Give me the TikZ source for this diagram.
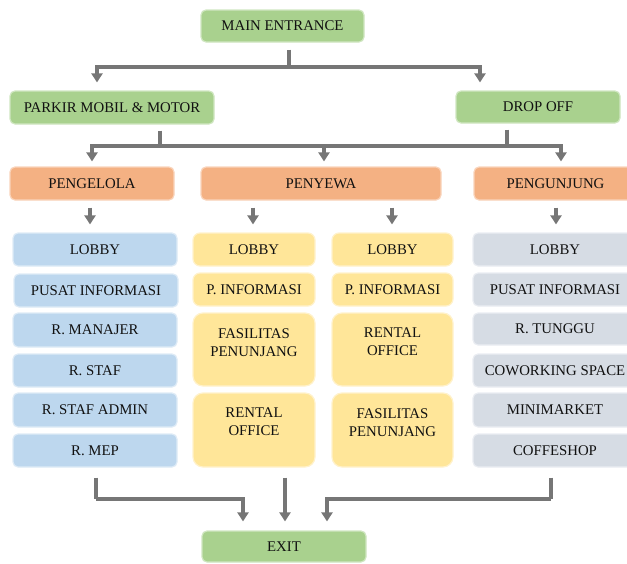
\documentclass[tikz,border=0pt]{standalone}
\usepackage{fontspec}
\setmainfont{Liberation Serif}
\usetikzlibrary{arrows.meta}
\definecolor{cgreen}{HTML}{A9D18E}
\definecolor{corange}{HTML}{F4B183}
\definecolor{cblue}{HTML}{BDD7EE}
\definecolor{cyellow}{HTML}{FFE699}
\definecolor{cgrey}{HTML}{D6DCE4}
\definecolor{cline}{HTML}{767676}
\definecolor{ctext}{HTML}{111111}
\tikzset{
  box/.style={rounded corners=5pt, line width=1.2pt, inner sep=0pt, text=ctext,
    font=\fontsize{14.8pt}{18pt}\selectfont, align=center},
  gbox/.style={box, fill=cgreen, draw=cgreen!55!white},
  obox/.style={box, fill=corange, draw=corange!55!white},
  bbox/.style={box, fill=cblue, draw=cblue!50!white},
  ybox/.style={box, fill=cyellow, draw=cyellow!50!white, rounded corners=7pt},
  tallbox/.style={ybox, rounded corners=10pt},
  rbox/.style={box, fill=cgrey, draw=cgrey!50!white},
  lbl/.style={text=ctext, font=\fontsize{14.8pt}{18pt}\selectfont, align=center, inner sep=0pt},
  conn/.style={draw=cline, line width=3.6pt},
  arr/.style={conn, -{Triangle[width=11pt,length=9pt]}},
}
\begin{document}
\begin{tikzpicture}[x=1pt,y=-1pt]
\useasboundingbox (0,0) rectangle (627,563);
\clip (0,0) rectangle (627,563);
% level 0
\node[gbox, minimum width=163pt, minimum height=32pt] (main) at (282.5,26) {MAIN ENTRANCE};
% level 1
\node[gbox, minimum width=204pt, minimum height=33pt] (parkir) at (112,107.5) {PARKIR MOBIL \& MOTOR};
\node[gbox, minimum width=164pt, minimum height=32pt] (drop) at (538,107) {DROP OFF};
% level 2
\node[obox, minimum width=164pt, minimum height=33pt] (pengelola) at (92,183.5) {PENGELOLA};
\node[obox, minimum width=240pt, minimum height=33pt] (penyewa) at (321,183.5) {PENYEWA};
\node[obox, minimum width=163pt, minimum height=33pt] (pengunjung) at (555.5,183.5) {PENGUNJUNG};
% blue column
\tikzset{bw/.style={minimum width=164pt}}
\node[bbox, bw, minimum height=33pt] (bA) at (95,249.5) {LOBBY};
\node[bbox, bw, minimum height=33pt] (bB) at (96,290.5) {PUSAT INFORMASI};
\node[bbox, bw, minimum height=34pt] (bC) at (95,330) {R. MANAJER};
\node[bbox, bw, minimum height=33pt] (bD) at (95,370.5) {R. STAF};
\node[bbox, bw, minimum height=34pt] (bE) at (95,410) {R. STAF ADMIN};
\node[bbox, bw, minimum height=33pt] (bF) at (95,450.5) {R. MEP};
% yellow column 1
\node[ybox, minimum width=122pt, minimum height=33pt] (yA) at (254,249.5) {LOBBY};
\node[ybox, minimum width=122pt, minimum height=33pt] (yB) at (254,289.5) {P. INFORMASI};
\node[tallbox, minimum width=122pt, minimum height=73pt] (yC) at (254,349.5) {};
\node[lbl] (yCt) at (254,343) {FASILITAS\\PENUNJANG};
\node[tallbox, minimum width=122pt, minimum height=74pt] (yD) at (254,430) {};
\node[lbl] (yDt) at (254,422) {RENTAL\\OFFICE};
% yellow column 2
\node[ybox, minimum width=121pt, minimum height=33pt] (zA) at (392.5,249.5) {LOBBY};
\node[ybox, minimum width=121pt, minimum height=33pt] (zB) at (392.5,289.5) {P. INFORMASI};
\node[tallbox, minimum width=121pt, minimum height=73pt] (zC) at (392.5,349.5) {};
\node[lbl] (zCt) at (392.5,342) {RENTAL\\OFFICE};
\node[tallbox, minimum width=121pt, minimum height=74pt] (zD) at (392.5,430) {};
\node[lbl] (zDt) at (392.5,423) {FASILITAS\\PENUNJANG};
% grey column
\tikzset{rw/.style={minimum width=164pt}}
\node[rbox, rw, minimum height=33pt] (rA) at (555,249.5) {LOBBY};
\node[rbox, rw, minimum height=33pt] (rB) at (555,289.5) {PUSAT INFORMASI};
\node[rbox, rw, minimum height=32pt] (rC) at (555,329) {R. TUNGGU};
\node[rbox, rw, minimum height=33pt] (rD) at (555,370.5) {COWORKING SPACE};
\node[rbox, rw, minimum height=34pt] (rE) at (555,410) {MINIMARKET};
\node[rbox, rw, minimum height=33pt] (rF) at (555,450.5) {COFFESHOP};
% exit
\node[gbox, minimum width=164pt, minimum height=31pt] (exit) at (284,546.5) {EXIT};

% connectors level 0 -> 1
\coordinate (j1) at (289,67);
\coordinate (a1) at (97,0);
\coordinate (a2) at (480,0);
\draw[conn, shorten <=7pt] (main.south -| j1) -- (j1);
\draw[arr, shorten >=8pt] (j1) -| (parkir.north -| a1);
\draw[arr, shorten >=8pt] (j1) -| (drop.north -| a2);
% level 1 -> 2
\coordinate (j2) at (160,146);
\coordinate (j3) at (507,146);
\coordinate (c1) at (92,0);
\coordinate (c2) at (324,0);
\coordinate (c3) at (561,0);
\draw[conn, shorten <=6pt] (parkir.south -| j2) -- (j2);
\draw[conn, shorten <=6pt] (drop.south -| j3) -- (j3);
\draw[arr, shorten >=5pt] (j2) -| (pengelola.north -| c1);
\draw[arr, shorten >=5pt] (j2) -| (penyewa.north -| c2);
\draw[arr, shorten >=5pt] (j2) -| (pengunjung.north -| c3);
% level 2 -> lists
\coordinate (d1) at (90,0);
\coordinate (d2) at (253,0);
\coordinate (d3) at (392,0);
\coordinate (d4) at (556,0);
\draw[arr, shorten <=7pt, shorten >=8pt] (pengelola.south -| d1) -- (bA.north -| d1);
\draw[arr, shorten <=7pt, shorten >=8pt] (penyewa.south -| d2) -- (yA.north -| d2);
\draw[arr, shorten <=7pt, shorten >=8pt] (penyewa.south -| d3) -- (zA.north -| d3);
\draw[arr, shorten <=7pt, shorten >=8pt] (pengunjung.south -| d4) -- (rA.north -| d4);
% lists -> exit
\coordinate (e1) at (96,499);
\coordinate (e2) at (551,499);
\coordinate (f1) at (243,0);
\coordinate (f2) at (285,0);
\coordinate (f3) at (327,0);
\draw[conn, shorten <=10pt] (bF.south -| e1) -- (e1);
\draw[arr, shorten >=9pt] (e1) -| (exit.north -| f1);
\draw[arr, shorten <=10pt, shorten >=9pt] (yD.south -| f2) -- (exit.north -| f2);
\draw[conn, shorten <=10pt] (rF.south -| e2) -- (e2);
\draw[arr, shorten >=9pt] (e2) -| (exit.north -| f3);
\end{tikzpicture}
\end{document}
